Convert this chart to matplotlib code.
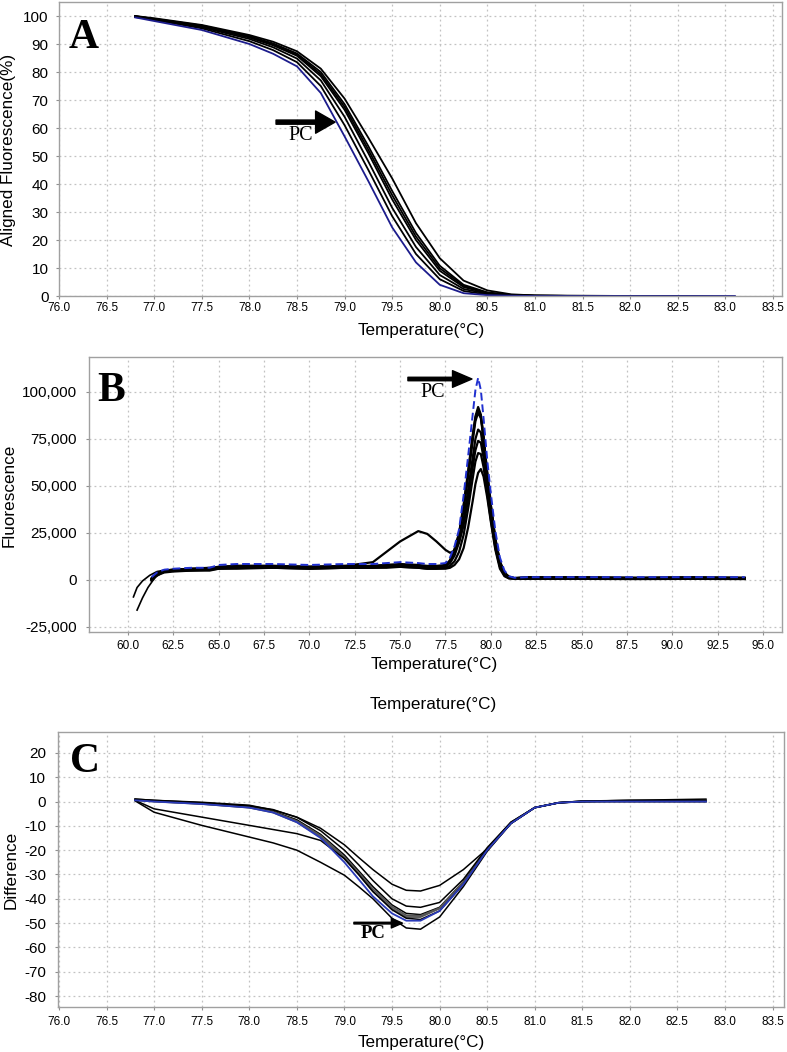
import matplotlib
matplotlib.use("Agg")

import numpy as np
import matplotlib.pyplot as plt
from matplotlib import font_manager as fm

# fonts: narrow face for x ticks if present
_names = {f.name for f in fm.fontManager.ttflist}
TICK_FONT = "Liberation Sans Narrow" if "Liberation Sans Narrow" in _names else "Liberation Sans"
SANS = ["Liberation Sans", "DejaVu Sans"]
SERIF = ["Liberation Serif", "DejaVu Serif"]
plt.rcParams["axes.unicode_minus"] = False

W, H = 787, 1052

# ---------------- A: aligned melt curves ----------------
A_TEMP = [76.8, 77.0, 77.5, 78.0, 78.25, 78.5, 78.75, 79.0, 79.25, 79.5, 79.75,
          80.0, 80.25, 80.5, 80.75, 81.0, 81.5, 82.0, 82.5, 83.1]
A_PC = [99.5, 98.2, 95.0, 90.0, 86.5, 82.0, 72.5, 57.0, 41.0, 24.5, 12.0,
        4.0, 1.0, 0.3, 0.1, 0.0, 0.0, 0.0, 0.0, 0.0]
A_SAMPLES = [
    [99.8, 98.6, 95.6, 91.0, 87.8, 83.5, 75.0, 61.0, 45.0, 28.5, 15.0, 6.0, 1.8, 0.5, 0.2, 0.0, 0.0, -0.2, -0.2, -0.3],
    [100.0, 98.8, 96.0, 91.8, 88.8, 84.8, 77.0, 64.0, 48.0, 31.5, 17.5, 7.5, 2.5, 0.8, 0.3, 0.1, 0.0, 0.0, -0.3, -0.3],
    [99.6, 98.9, 96.3, 92.3, 89.5, 85.8, 78.5, 66.5, 51.0, 34.5, 20.0, 9.0, 3.2, 1.0, 0.3, 0.1, 0.0, -0.2, -0.2, -0.5],
    [99.8, 98.9, 96.4, 92.6, 89.9, 86.2, 79.2, 67.5, 52.2, 36.0, 21.2, 9.9, 3.6, 1.1, 0.3, 0.1, 0.0, -0.1, -0.2, -0.4],
    [99.9, 99.0, 96.6, 92.8, 90.2, 86.6, 80.0, 68.5, 53.5, 37.5, 22.5, 10.8, 4.0, 1.3, 0.4, 0.1, 0.0, 0.0, -0.2, -0.4],
    [100.0, 99.2, 96.8, 93.2, 90.8, 87.4, 81.2, 70.5, 56.5, 42.0, 26.0, 13.5, 5.5, 2.0, 0.6, 0.2, 0.1, 0.0, 0.0, -0.3],
]

# ---------------- B: derivative melt peaks ----------------
B_TEMP = [61.3, 61.6, 62.0, 62.5, 63.5, 64.5, 65.0, 66.0, 68.0, 70.0, 72.0, 73.5, 74.25, 75.0, 76.0, 76.5, 77.0,
          77.5, 77.75, 78.0, 78.25, 78.5, 78.75, 79.0, 79.15, 79.3, 79.45, 79.6, 79.8, 80.0, 80.25, 80.5, 80.75, 81.0, 81.3,
          82.0, 85.0, 88.0, 91.0, 94.0]
B_PC = [1500, 4000, 5500, 6000, 6500, 6500, 8000, 8500, 8500, 8000, 8500, 8500, 9000, 9500, 9000, 8500, 8500,
        9000, 12000, 18000, 27000, 45000, 66000, 88000, 101000, 107500, 101000, 86000, 64000, 46000, 26000, 12000, 5000, 2000, 1200,
        1500, 1500, 1500, 1500, 1500]
B_SAMPLES = [
    [500, 3500, 5000, 5500, 6000, 6000, 7000, 7500, 7500, 7000, 7500, 7500, 8000, 8500, 8000, 7500, 7500,
     8000, 10500, 16500, 25000, 40000, 58000, 77000, 87000, 92000, 88000, 76000, 57000, 40000, 22000, 10000, 4000, 1800, 1000,
     1500, 1500, 1200, 1500, 1200],
    [500, 3500, 5000, 5500, 6000, 6500, 7000, 7500, 7500, 7000, 7000, 7500, 8000, 8000, 7500, 7000, 7000,
     7500, 10000, 16000, 24500, 39000, 57000, 76000, 86000, 90500, 87000, 76000, 57000, 39500, 21500, 9500, 3500, 1500, 1000,
     1300, 1300, 1100, 1300, 1100],
    [0, 3000, 4500, 5000, 5500, 5500, 6500, 7000, 7000, 6500, 7000, 7000, 7500, 8000, 7500, 7000, 7000,
     7500, 10000, 15500, 23500, 37500, 55000, 74000, 84500, 89000, 86000, 75000, 56000, 38500, 21000, 9500, 3500, 1500, 1000,
     1200, 1200, 1000, 1200, 1000],
    [1000, 3500, 5000, 5000, 5500, 6000, 6500, 6500, 7000, 6500, 6500, 7000, 7000, 7500, 7000, 6500, 6500,
     7000, 9000, 13000, 20000, 32000, 48000, 65000, 75000, 80000, 78500, 69000, 52000, 36000, 19500, 8500, 3000, 1200, 800,
     1000, 1000, 800, 1000, 800],
    [500, 3000, 4500, 5000, 5500, 5500, 6500, 7000, 7000, 7000, 7500, 9500, 15000, 20500, 26000, 24500, 20500,
     16000, 14500, 15500, 20000, 29000, 43000, 60000, 69000, 74000, 73000, 65000, 50000, 34000, 18000, 7500, 2800, 1200, 800,
     1000, 1000, 800, 800, 800],
    [-500, 2500, 4000, 4500, 5000, 5000, 6000, 6500, 6500, 6000, 6500, 6500, 7000, 7000, 6500, 6000, 6000,
     6500, 7500, 10000, 15000, 24000, 38000, 54000, 63000, 67500, 67000, 60000, 46000, 32000, 17000, 7000, 2500, 1000, 800,
     800, 800, 600, 800, 600],
    [0, 3000, 4500, 5000, 5000, 5500, 6000, 6000, 6500, 6000, 6500, 6500, 6500, 7000, 6500, 6000, 6000,
     6000, 6500, 8000, 11000, 17000, 28000, 42000, 51000, 57000, 59000, 55000, 44000, 31000, 16000, 6000, 2000, 800, 700,
     600, 600, 500, 600, 500],
]
# two early traces starting below zero
B_START1_T = [60.3, 60.5, 60.8, 61.2, 61.6, 62.0]
B_START1_F = [-9000, -4000, -500, 2500, 4500, 5200]
B_START2_T = [60.5, 60.8, 61.1, 61.5, 62.0]
B_START2_F = [-16000, -9500, -4000, 1500, 4500]

# ---------------- C: difference plot ----------------
C_TEMP = [76.8, 77.0, 77.5, 78.0, 78.25, 78.5, 78.75, 79.0, 79.15, 79.3, 79.5, 79.65, 79.8,
          80.0, 80.25, 80.5, 80.75, 81.0, 81.25, 81.5, 82.0, 82.8]
C_PC = [0.5, 0.0, -1.0, -2.5, -4.5, -8.5, -15.0, -25.0, -32.0, -39.0, -46.0, -49.0, -49.0,
        -45.0, -34.0, -20.0, -9.0, -2.5, -0.5, 0.0, 0.0, 0.0]
C_SAMPLES = [
    [0.8, 0.2, -0.8, -2.2, -4.0, -7.5, -13.5, -22.0, -28.5, -35.0, -42.5, -46.0, -46.5, -43.5, -33.0, -19.5, -8.5, -2.5, -0.5, 0.2, 0.3, 0.3],
    [0.6, 0.0, -1.0, -2.5, -4.5, -8.5, -14.5, -23.5, -30.0, -37.0, -44.0, -47.5, -47.5, -44.0, -33.5, -20.0, -9.0, -2.5, -0.5, 0.0, 0.5, 0.5],
    [0.7, 0.1, -0.9, -2.4, -4.2, -8.0, -14.0, -22.8, -29.2, -36.0, -43.2, -46.8, -47.0, -43.8, -33.2, -19.8, -8.8, -2.5, -0.5, 0.1, 0.4, 0.4],
    [1.0, 0.5, -0.5, -1.8, -3.3, -6.5, -12.0, -20.0, -26.0, -32.5, -40.0, -43.0, -43.5, -41.5, -32.0, -19.0, -8.5, -2.5, -0.5, 0.0, 0.2, 0.2],
    [1.0, 0.5, -0.3, -1.5, -3.5, -6.4, -11.0, -17.8, -23.0, -28.0, -34.0, -36.5, -36.8, -34.5, -28.0, -19.5, -9.0, -2.5, -0.5, 0.2, 0.5, 1.0],
    [0.5, -3.0, -6.4, -9.8, -11.5, -13.2, -16.0, -23.5, -30.0, -37.0, -44.5, -48.0, -48.5, -45.0, -34.0, -20.0, -9.0, -2.5, -0.5, 0.0, 0.0, 0.0],
    [0.3, -4.4, -9.8, -14.6, -17.0, -20.0, -25.0, -30.3, -35.0, -40.0, -48.0, -52.0, -52.5, -47.5, -35.0, -20.5, -9.0, -2.5, -0.5, 0.0, 0.0, 0.0],
]
C_GREY = [False, True, True, False, False, False, False]


def px_box(left, top, right, bottom):
    return [left / W, 1 - bottom / H, (right - left) / W, (bottom - top) / H]


def fig_text(fig, x, y, s, **kw):
    fig.text(x / W, 1 - y / H, s, **kw)


def style(ax, xlim, ylim, xticks, yticks, yfmt, xpad, ypad):
    ax.set_xlim(*xlim)
    ax.set_ylim(*ylim)
    ax.set_xticks(xticks)
    ax.set_yticks(yticks)
    ax.set_xticklabels([f"{v:.1f}" for v in xticks], family=TICK_FONT, fontsize=8.5)
    ax.set_yticklabels([yfmt(v) for v in yticks], family=SANS, fontsize=11)
    ax.grid(True, color="#c2c2c2", linestyle=(0, (1.5, 2.5)), linewidth=0.9)
    ax.set_axisbelow(True)
    for sp in ax.spines.values():
        sp.set_color("#a0a0a0")
        sp.set_linewidth(1.0)
    ax.tick_params(axis="x", length=2.5, color="#909090", pad=xpad)
    ax.tick_params(axis="y", length=2.5, color="#909090", pad=ypad)


fig = plt.figure(figsize=(W / 100, H / 100), dpi=100)

# ---- panel A
axA = fig.add_axes(px_box(59, 2, 782, 296))
for vals in A_SAMPLES:
    axA.plot(A_TEMP, vals, color="black", lw=1.3)
axA.plot(A_TEMP, A_PC, color="#1c1c8c", lw=1.3)
style(axA, (76.0, 83.595), (0, 105), np.arange(76.0, 83.51, 0.5), np.arange(0, 101, 10),
      lambda v: f"{v:.0f}", 1.5, 5)
axA.text(0.0346, 0.878, "A", transform=axA.transAxes, family=SERIF, fontweight="bold",
         fontsize=30, ha="center", va="center")
axA.annotate("", xy=(78.90, 62.1), xytext=(78.28, 62.1),
             arrowprops=dict(facecolor="black", edgecolor="black", width=3, headwidth=16,
                             headlength=14, shrink=0))
axA.text(78.54, 57.5, "PC", family=SERIF, fontsize=14.5, ha="center", va="center")

# ---- panel B
axB = fig.add_axes(px_box(89, 357, 782, 632))
axB.plot(B_START1_T, B_START1_F, color="black", lw=1.2)
axB.plot(B_START2_T, B_START2_F, color="black", lw=1.2)
for vals in B_SAMPLES:
    axB.plot(B_TEMP, vals, color="black", lw=1.6)
axB.plot(B_TEMP, B_PC, color="#2030d0", lw=1.4, linestyle=(0, (4, 2)))
style(axB, (57.85, 96.05), (-27660, 118600), np.arange(60.0, 95.01, 2.5),
      np.arange(-25000, 100001, 25000), lambda v: f"{int(v):,}", 3.5, 6)
axB.text(0.0317, 0.876, "B", transform=axB.transAxes, family=SERIF, fontweight="bold",
         fontsize=30, ha="center", va="center")
axB.annotate("", xy=(78.96, 106900), xytext=(75.43, 106900),
             arrowprops=dict(facecolor="black", edgecolor="black", width=2.5, headwidth=12,
                             headlength=14, shrink=0))
axB.text(76.81, 99500, "PC", family=SERIF, fontsize=14.5, ha="center", va="center")

# ---- panel C
axC = fig.add_axes(px_box(58, 732, 784, 1007))
for vals, grey in zip(C_SAMPLES, C_GREY):
    axC.plot(C_TEMP, vals, color="#555555" if grey else "black", lw=1.3 if grey else 1.1)
axC.plot(C_TEMP, C_PC, color="#2a3ab8", lw=1.3)
style(axC, (75.99, 83.62), (-84.5, 28.6), np.arange(76.0, 83.51, 0.5), np.arange(-80, 21, 10),
      lambda v: f"{v:.0f}", 4, 6)
axC.text(0.037, 0.891, "C", transform=axC.transAxes, family=SERIF, fontweight="bold",
         fontsize=30, ha="center", va="center")
axC.annotate("", xy=(79.61, -50), xytext=(79.10, -50),
             arrowprops=dict(facecolor="black", edgecolor="black", width=1.2, headwidth=7,
                             headlength=8, shrink=0))
axC.text(79.30, -54.2, "PC", family=SERIF, fontweight="bold", fontsize=13.5, ha="center", va="center")

# axis titles placed in pixels
lab = dict(family=SANS, fontsize=12.3, ha="center", va="center")
fig_text(fig, 9, 150, "Aligned Fluorescence(%)", rotation=90, **lab)
fig_text(fig, 9, 495, "Fluorescence", rotation=90, **lab)
fig_text(fig, 11, 870, "Difference", rotation=90, **lab)
fig_text(fig, 421, 331, "Temperature(°C)", **lab)
fig_text(fig, 434, 664, "Temperature(°C)", **lab)
fig_text(fig, 433, 705, "Temperature(°C)", **lab)
fig_text(fig, 421, 1043, "Temperature(°C)", **lab)

fig.savefig("out.png", dpi=100)
